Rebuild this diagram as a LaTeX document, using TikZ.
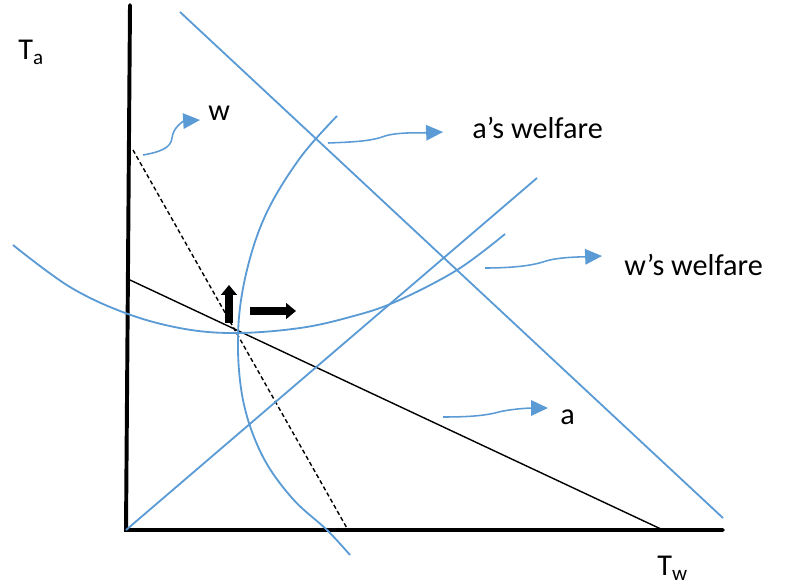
\documentclass[tikz,border=0pt]{standalone}
\usepackage{fontspec}
\setmainfont{Carlito}
\usetikzlibrary{arrows.meta}
\definecolor{curveblue}{RGB}{91,155,213}

\begin{document}
\begin{tikzpicture}[x=0.025cm,y=-0.025cm,
		axis/.style={line width=2.8pt, line cap=round},
		bluecurve/.style={curveblue, line width=1.3pt},
		pointer/.style={curveblue, line width=1.1pt, -{Triangle[length=12pt,width=11pt]}},
		push/.style={line width=5.6pt, -{Triangle[length=7pt,width=11pt]}},
		lbl/.style={font=\fontsize{21.5}{25}\selectfont, inner sep=0pt, anchor=base west}]
		\useasboundingbox (0,0) rectangle (786,586);
		% ===== AXES =====
		\coordinate (O) at (126,530);
		\coordinate (ytop) at (130,5);
		\coordinate (xend) at (723,530);
		\draw[axis] (ytop) -- (O) -- (xend);
		\node[lbl] (Ta) at (18,59) {T\raisebox{-0.35ex}{\fontsize{15}{15}\selectfont a}};
		\node[lbl] (Tw) at (657,575) {T\raisebox{-0.35ex}{\fontsize{15}{15}\selectfont w}};
		% ===== Budget line and its rotated (dashed) version =====
		\coordinate (budtop) at (130,280);
		\coordinate (budend) at (663,530);
		\draw[line width=1pt] (budtop) -- (budend);
		\coordinate (dashtop) at (133,150);
		\coordinate (dashend) at (348,530);
		\draw[line width=1pt, dash pattern=on 3pt off 2pt] (dashtop) -- (dashend);
		% ===== Blue lines =====
		\coordinate (bigtop) at (180,12);
		\coordinate (bigend) at (723,518);
		\draw[bluecurve] (bigtop) -- (bigend);
		\coordinate (diagend) at (537,178);
		\draw[bluecurve] (O) -- (diagend);
		% ===== Welfare curves =====
		\draw[bluecurve] plot[smooth, tension=0.6] coordinates {(337,116) (300,158) (266,214) (246,274) (238,335) (243,400) (262,455) (292,498) (327,530) (350,555)};
		\draw[bluecurve] plot[smooth, tension=0.6] coordinates {(13,245) (70,287) (128,314) (185,329) (238,333) (300,328) (350,317) (395,302) (457,270) (505,234)};
		% ===== Black push arrows at the tangency =====
		\coordinate (upfoot) at (229,323);
		\coordinate (uptip) at (229,285);
		\draw[push] (upfoot) -- (uptip);
		\coordinate (rtfoot) at (250,311);
		\coordinate (rttip) at (296,311);
		\draw[push] (rtfoot) -- (rttip);
		% ===== Labels with their pointers =====
		\node[lbl] (wlbl) at (208,120) {w};
		\coordinate (wtail) at (143,155);
		\draw[pointer] (wtail) .. controls (160,152) and (171,148) .. (172,138) .. controls (173,127) and (184,121) .. ([shift={(-8,0)}]wlbl.base west);
		\node[lbl] (awlbl) at (472,138) {a’s welfare};
		\coordinate (awtail) at (328,143);
		\draw[pointer] (awtail) .. controls (355,142) and (372,141) .. (385,136) .. controls (398,132) and (420,133) .. ([shift={(-29,-6)}]awlbl.base west);
		\node[lbl] (wwlbl) at (624,275) {w’s welfare};
		\coordinate (wwtail) at (485,268);
		\draw[pointer] (wwtail) .. controls (510,268) and (530,266) .. (543,262) .. controls (556,257) and (580,257) .. ([shift={(-22,-19)}]wwlbl.base west);
		\node[lbl] (albl) at (560,424) {a};
		\coordinate (atail) at (443,417);
		\draw[pointer] (atail) .. controls (465,417) and (482,416) .. (495,413) .. controls (508,409) and (530,408) .. ([shift={(-12,-16)}]albl.base west);
	\end{tikzpicture}
\end{document}
